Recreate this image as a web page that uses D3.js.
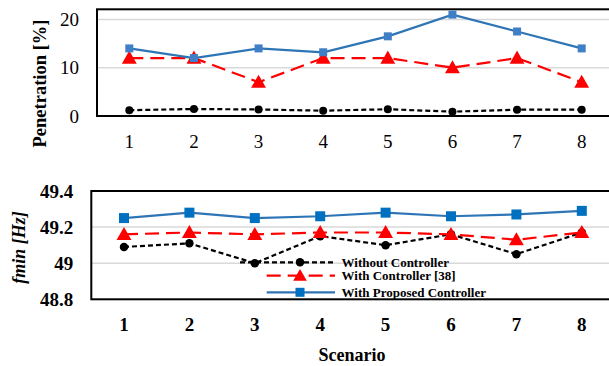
<!DOCTYPE html>
<html>
<head>
<meta charset="utf-8">
<script src="https://cdn.jsdelivr.net/npm/d3@7"></script>
<style>
  body { margin: 0; background: #fff; }
  svg { display: block; }
  text { font-family: "Liberation Serif", "Times New Roman", serif; }
</style>
</head>
<body>
<div id="chart"></div>
<script>
// scenario ids on the x axis
var scenarios = [1, 2, 3, 4, 5, 6, 7, 8];

// top panel: penetration [%]
var penWithout  = [1.2, 1.45, 1.35, 1.1, 1.4, 0.9, 1.3, 1.3];
var penWith38   = [12, 12, 7, 12, 12, 10, 12, 7];
var penProposed = [14, 12, 14, 13.2, 16.5, 21, 17.5, 14];
var penTicks = [0, 10, 20];

// bottom panel: fmin [Hz]
var fWithout  = [49.09, 49.11, 49.0, 49.15, 49.1, 49.16, 49.05, 49.17];
var fWith38   = [49.16, 49.17, 49.16, 49.17, 49.17, 49.16, 49.13, 49.17];
var fProposed = [49.25, 49.28, 49.25, 49.26, 49.28, 49.26, 49.27, 49.29];
var fTicks = [48.8, 49, 49.2, 49.4];

var seriesNames = ["Without Controller", "With Controller [38]", "With Proposed Controller"];

var W = 609, H = 366;
var svg = d3.select("#chart").append("svg")
  .attr("width", W).attr("height", H);

var styles = [
  {color: "#000", dash: "5,3", marker: "circle"},
  {color: "#ff0000", dash: "14,7", marker: "triangle"},
  {color: "#2e75b6", dash: null, marker: "square"}
];

function drawMarker(g, type, x, y, size, fill) {
  if (type === "circle") {
    g.append("circle").attr("cx", x).attr("cy", y).attr("r", size / 2).attr("fill", fill);
  } else if (type === "square") {
    g.append("rect").attr("x", x - size / 2).attr("y", y - size / 2)
      .attr("width", size).attr("height", size).attr("fill", fill);
  } else {
    var s = size * 0.62;
    g.append("path")
      .attr("d", "M" + x + "," + (y - s) + "L" + (x + s) + "," + (y + s * 0.75) + "L" + (x - s) + "," + (y + s * 0.75) + "Z")
      .attr("fill", fill);
  }
}

function panel(opt) {
  var g = svg.append("g");
  var x = d3.scalePoint().domain(scenarios).range([opt.left, opt.right]).padding(0.5);
  var y = d3.scaleLinear().domain(opt.domain).range([opt.bottom, opt.top]);

  // gridlines
  g.selectAll(".grid").data(opt.ticks.filter(function (t) { return t !== opt.domain[0]; }))
    .enter().append("line")
    .attr("x1", opt.left).attr("x2", opt.right)
    .attr("y1", function (d) { return y(d); }).attr("y2", function (d) { return y(d); })
    .attr("stroke", "#d9d9d9").attr("stroke-width", 1.5);

  // frame
  g.append("rect")
    .attr("x", opt.left).attr("y", y(opt.domain[1]))
    .attr("width", opt.right - opt.left).attr("height", opt.bottom - y(opt.domain[1]))
    .attr("fill", "none").attr("stroke", "#000").attr("stroke-width", 2);

  // y tick labels
  g.selectAll(".yl").data(opt.ticks).enter().append("text")
    .attr("x", opt.left - 18).attr("y", function (d) { return y(d); })
    .attr("dy", "0.35em").attr("text-anchor", "end")
    .attr("font-size", opt.tickSize).attr("font-weight", opt.bold ? "bold" : "normal")
    .text(function (d) { return opt.fmt(d); });

  // x tick labels
  g.selectAll(".xl").data(scenarios).enter().append("text")
    .attr("x", function (d) { return x(d); }).attr("y", opt.xLabelY)
    .attr("dy", "0.35em").attr("text-anchor", "middle")
    .attr("font-size", opt.tickSize).attr("font-weight", opt.bold ? "bold" : "normal")
    .text(function (d) { return d; });

  // y title
  g.append("text")
    .attr("transform", "translate(" + opt.titleX + "," + opt.titleY + ") rotate(-90)")
    .attr("text-anchor", "middle").attr("dy", "0.35em")
    .attr("font-size", opt.titleSize).attr("font-weight", "bold")
    .attr("font-style", opt.titleItalic ? "italic" : "normal")
    .text(opt.title);

  // series
  opt.series.forEach(function (vals, i) {
    var st = styles[i];
    var line = d3.line().x(function (d, j) { return x(scenarios[j]); }).y(function (d) { return y(d); });
    g.append("path").datum(vals)
      .attr("d", line).attr("fill", "none")
      .attr("stroke", st.color).attr("stroke-width", 2.2)
      .attr("stroke-dasharray", st.dash);
    var mg = g.append("g");
    vals.forEach(function (v, j) {
      drawMarker(mg, st.marker, x(scenarios[j]), y(v), opt.markerSize[i], opt.markerFill[i]);
    });
  });
  return {x: x, y: y};
}

panel({
  left: 97, right: 614, top: 9.3, bottom: 116,
  domain: [0, 22.1], ticks: penTicks, fmt: d3.format("d"),
  tickSize: 19, bold: false, xLabelY: 141.5,
  title: "Penetration [%]", titleSize: 18.5, titleX: 39.5, titleY: 83.5, titleItalic: false,
  series: [penWithout, penWith38, penProposed],
  markerSize: [8, 12, 8], markerFill: ["#000", "#ff0000", "#3f7fc6"]
});

panel({
  left: 91.3, right: 614.5, top: 191, bottom: 299.3,
  domain: [48.8, 49.4], ticks: fTicks, fmt: function (d) { return String(+d.toFixed(1)); },
  tickSize: 19, bold: true, xLabelY: 324.5,
  title: "fmin [Hz]", titleSize: 18, titleX: 18.5, titleY: 247.5, titleItalic: true,
  series: [fWithout, fWith38, fProposed],
  markerSize: [8.5, 12, 10], markerFill: ["#000", "#ff0000", "#0070c0"]
});

// x axis title
svg.append("text")
  .attr("x", 352).attr("y", 355).attr("dy", "0.35em")
  .attr("text-anchor", "middle").attr("font-size", 18).attr("font-weight", "bold")
  .text("Scenario");

// legend inside the bottom panel
var legend = svg.append("g");
var legendY = [262.3, 275.7, 292.3];
var legendLineX = [[240, 335], [266.7, 335], [266.7, 335]];
seriesNames.forEach(function (name, i) {
  var st = styles[i];
  legend.append("line")
    .attr("x1", legendLineX[i][0]).attr("x2", legendLineX[i][1])
    .attr("y1", legendY[i]).attr("y2", legendY[i])
    .attr("stroke", st.color).attr("stroke-width", 2.2)
    .attr("stroke-dasharray", st.dash);
  drawMarker(legend, st.marker, 300, legendY[i], [8.5, 11, 9][i], ["#000", "#ff0000", "#0070c0"][i]);
  legend.append("text")
    .attr("x", 341.5).attr("y", legendY[i]).attr("dy", "0.35em")
    .attr("font-size", 13).attr("font-weight", "bold")
    .text(name);
});
</script>
</body>
</html>
